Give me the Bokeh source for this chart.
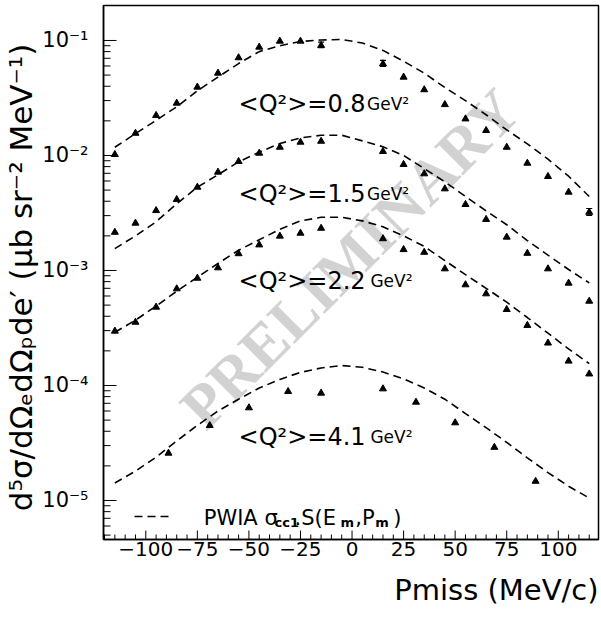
import numpy as np
from bokeh.plotting import figure
from bokeh.models import (Range1d, LogTicker, SingleIntervalTicker, CustomJSTickFormatter,
                          Title, Legend, LegendItem)
from bokeh.core.properties import value
from bokeh.embed import file_html
from bokeh.resources import INLINE

# ---------------- data ----------------
PMISS_A = [-115, -105, -95, -85, -75, -65, -55, -45, -35, -25, -15,
           15, 25, 35, 45, 55, 65, 75, 85, 95, 105, 115]
XS_08 = [0.0102, 0.0156, 0.0223, 0.0285, 0.0393, 0.052, 0.0708, 0.0875, 0.0986, 0.0986, 0.0905,
         0.0626, 0.048, 0.0373, 0.0277, 0.0208, 0.0165, 0.0118, 0.00857, 0.00657, 0.0048, 0.00321]
XS_15 = [0.00215, 0.00258, 0.00332, 0.00414, 0.0053, 0.00716, 0.00887, 0.01047, 0.0118, 0.01305, 0.0133,
         0.01084, 0.00836, 0.00693, 0.00513, 0.00375, 0.00278, 0.00195, 0.00141, 0.001034, 0.000776, 0.000541]
XS_22 = [0.000297, 0.000355, 0.00048, 0.000693, 0.000857, 0.001055, 0.0014, 0.00167, 0.00199, 0.00211, 0.00233,
         0.00189, 0.00152, 0.00144, 0.001034, 0.000751, 0.000627, 0.000458, 0.000333, 0.000234, 0.000163, 0.000126]
PMISS_B = [-89, -69, -50, -31, -15, 15, 31, 50, 69, 89]
XS_41 = [2.58e-5, 4.49e-5, 6.4e-5, 8.87e-5, 8.58e-5, 9.35e-5, 7.16e-5, 4.74e-5, 2.9e-5, 1.47e-5]

ERR_X_08 = [-15, 15, 115]
ERR_LO_08 = [0.0865, 0.0594, 0.00301]
ERR_HI_08 = [0.0966, 0.0670, 0.00346]

PMISS_C = [-115, -105, -95, -85, -75, -65, -55, -45, -35, -25, -15, -5,
           5, 15, 25, 35, 45, 55, 65, 75, 85, 95, 105, 115]
PWIA_08 = [0.0118, 0.0155, 0.0202, 0.0265, 0.0365, 0.048, 0.063, 0.080, 0.090, 0.098, 0.101, 0.102,
           0.095, 0.082, 0.066, 0.052, 0.039, 0.030, 0.0226, 0.0167, 0.0126, 0.0093, 0.0066, 0.0044]
PWIA_15 = [0.00155, 0.0020, 0.00265, 0.0038, 0.0053, 0.0068, 0.0088, 0.0107, 0.0127, 0.0142, 0.0150, 0.0150,
           0.0134, 0.0119, 0.0100, 0.0077, 0.0059, 0.0044, 0.0033, 0.0025, 0.00182, 0.00136, 0.00102, 0.00078]
PWIA_22 = [0.00029, 0.00037, 0.00049, 0.00066, 0.000875, 0.00115, 0.0015, 0.00185, 0.00228, 0.0027, 0.0029, 0.0029,
           0.0027, 0.0024, 0.0020, 0.00162, 0.00122, 0.00092, 0.0007, 0.00053, 0.00039, 0.000285, 0.000208, 0.000155]
PWIA_41 = [1.42e-5, 1.8e-5, 2.38e-5, 3.3e-5, 4.5e-5, 6.0e-5, 7.6e-5, 9.5e-5, 1.13e-4, 1.3e-4, 1.42e-4, 1.49e-4,
           1.44e-4, 1.31e-4, 1.14e-4, 9.5e-5, 7.6e-5, 5.7e-5, 4.3e-5, 3.2e-5, 2.35e-5, 1.75e-5, 1.33e-5, 1.05e-5]

Q2_LABELS = ["<Q\u00b2>=0.8", "<Q\u00b2>=1.5", "<Q\u00b2>=2.2", "<Q\u00b2>=4.1"]
UNIT_LABEL = "GeV\u00b2"
LEG_MAIN = ["PWIA \u03c3", ".S(E", ",P", ")"]
LEG_SUB = ["cc1", "m", "m"]

# tick values
X_MAJOR = [-100, -75, -50, -25, 0, 25, 50, 75, 100]
X_MINOR = [v for v in range(-120, 120, 5) if v not in X_MAJOR]
Y_MAJOR = [1e-5, 1e-4, 1e-3, 1e-2, 1e-1]
Y_MINOR = [k * 10.0 ** e for e in range(-6, 0) for k in range(2, 10) if 4.58e-6 < k * 10.0 ** e < 0.2]

# ---------------- layout / placement constants ----------------
X0, X1 = -120.5, 119.5
Y0, Y1 = 4.58e-6, 0.2014
Q2_X = -55.0
Q2_Y = [0.0283, 0.00465, 8.18e-4, 3.56e-5]
UNIT_X = [7.3, 7.3, 8.9, 8.9]
WM_X, WM_Y = -1.0, 1.27e-3
LEG_MAIN_X = [-71.9, -27.9, 1.6, 20.0]
LEG_SUB_X = [-37.6, -5.6, 11.3]
LEG_Y = 7.11e-6
LEG_SUB_Y = 6.44e-6

FONT = "DejaVu Sans"

p = figure(width=601, height=618,
           x_range=Range1d(X0, X1), y_range=Range1d(Y0, Y1),
           y_axis_type="log", output_backend="svg", toolbar_location=None,
           min_border_left=103, min_border_right=3, min_border_top=5, min_border_bottom=79)
p.xgrid.visible = False
p.ygrid.visible = False
p.outline_line_color = "black"
p.outline_line_width = 1.5
p.background_fill_color = "white"
p.border_fill_color = "white"

# watermark
p.text(x=[WM_X], y=[WM_Y], text=["PRELIMINARY"], angle=np.pi / 4,
       text_align="center", text_baseline="middle",
       text_font=value("Liberation Serif"), text_font_style="bold",
       text_font_size="62px", text_color="#d2d2d2")

# inward tick marks (drawn at the frame edges, clipped to the frame)
p.scatter(X_MAJOR, [Y0] * len(X_MAJOR), marker="dash", angle=np.pi / 2, size=18, line_color="black", line_width=1)
p.scatter(X_MINOR, [Y0] * len(X_MINOR), marker="dash", angle=np.pi / 2, size=10, line_color="black", line_width=1)
p.scatter([X0] * len(Y_MAJOR), Y_MAJOR, marker="dash", size=26, line_color="black", line_width=1)
p.scatter([X0] * len(Y_MINOR), Y_MINOR, marker="dash", size=14, line_color="black", line_width=1)

# PWIA curves
dash = "8 5"
r08 = p.line(PMISS_C, PWIA_08, line_color="black", line_width=1.6, line_dash=dash)
p.line(PMISS_C, PWIA_15, line_color="black", line_width=1.6, line_dash=dash)
p.line(PMISS_C, PWIA_22, line_color="black", line_width=1.6, line_dash=dash)
p.line(PMISS_C, PWIA_41, line_color="black", line_width=1.6, line_dash=dash)

# error bars
p.segment(x0=ERR_X_08, y0=ERR_LO_08, x1=ERR_X_08, y1=ERR_HI_08, line_color="black", line_width=1.2)
p.scatter(ERR_X_08, ERR_LO_08, marker="dash", size=6, line_color="black", line_width=1.2)
p.scatter(ERR_X_08, ERR_HI_08, marker="dash", size=6, line_color="black", line_width=1.2)

# data points
for ys in (XS_08, XS_15, XS_22):
    p.scatter(PMISS_A, ys, marker="triangle", size=7, fill_color="black", line_color="black")
p.scatter(PMISS_B, XS_41, marker="triangle", size=7, fill_color="black", line_color="black")

# Q2 labels
p.text(x=[Q2_X] * 4, y=Q2_Y, text=Q2_LABELS, text_align="left", text_baseline="alphabetic",
       text_font=value(FONT), text_font_size="24px", text_color="black")
p.text(x=UNIT_X, y=Q2_Y, text=[UNIT_LABEL] * 4, text_align="left", text_baseline="alphabetic",
       text_font=value(FONT), text_font_size="17px", text_color="black")

# legend
legend = Legend(items=[LegendItem(label=" ", renderers=[r08])], location=(31, 18),
                glyph_width=36, glyph_height=10, label_height=10, label_width=1,
                label_text_font_size="1px", padding=0, margin=0, spacing=0,
                border_line_alpha=0, background_fill_alpha=0)
p.add_layout(legend)
p.text(x=LEG_MAIN_X, y=[LEG_Y] * len(LEG_MAIN), text=LEG_MAIN, text_align="left", text_baseline="alphabetic",
       text_font=value(FONT), text_font_size="21px", text_color="black")
p.text(x=LEG_SUB_X, y=[LEG_SUB_Y] * len(LEG_SUB), text=LEG_SUB, text_align="left", text_baseline="alphabetic",
       text_font=value(FONT), text_font_size="13px", text_font_style="bold", text_color="black")

# axes
xa = p.xaxis[0]
xa.ticker = SingleIntervalTicker(interval=25, num_minor_ticks=5)
xa.formatter = CustomJSTickFormatter(code="return tick < 0 ? '\u2212' + Math.abs(tick) : String(tick);")
ya = p.yaxis[0]
ya.ticker = LogTicker(num_minor_ticks=10)
ya.formatter = CustomJSTickFormatter(code="""
const sup = {'-': '\u207b', '0': '\u2070', '1': '\u00b9', '2': '\u00b2', '3': '\u00b3',
             '4': '\u2074', '5': '\u2075', '6': '\u2076', '7': '\u2077', '8': '\u2078', '9': '\u2079'};
const e = Math.round(Math.log10(tick));
let s = '';
for (const c of String(e)) { s += sup[c]; }
return '10' + s;
""")
for ax in (xa, ya):
    ax.axis_line_color = "black"
    ax.axis_line_width = 1.5
    ax.major_tick_out = 0
    ax.minor_tick_out = 0
    ax.major_tick_in = 0
    ax.minor_tick_in = 0
    ax.major_label_text_font = FONT
    ax.major_label_text_color = "black"
xa.major_label_text_font_size = "20px"
ya.major_label_text_font_size = "21px"
xa.major_label_standoff = 2
ya.major_label_standoff = 15

ya.axis_label = "d\u2075\u03c3/d\u03a9\u2091d\u03a9\u209ade\u2032  (\u03bcb sr\u207b\u00b2 MeV\u207b\u00b9)"
ya.axis_label_text_font = FONT
ya.axis_label_text_font_style = "normal"
ya.axis_label_text_font_size = "31px"
ya.axis_label_text_color = "black"
ya.axis_label_standoff = 0

p.add_layout(Title(text="Pmiss (MeV/c)", align="right", text_font=FONT, text_font_style="normal",
                   text_font_size="29px", text_color="black", standoff=24), "below")

open("out.html", "w").write(file_html(p, INLINE))
